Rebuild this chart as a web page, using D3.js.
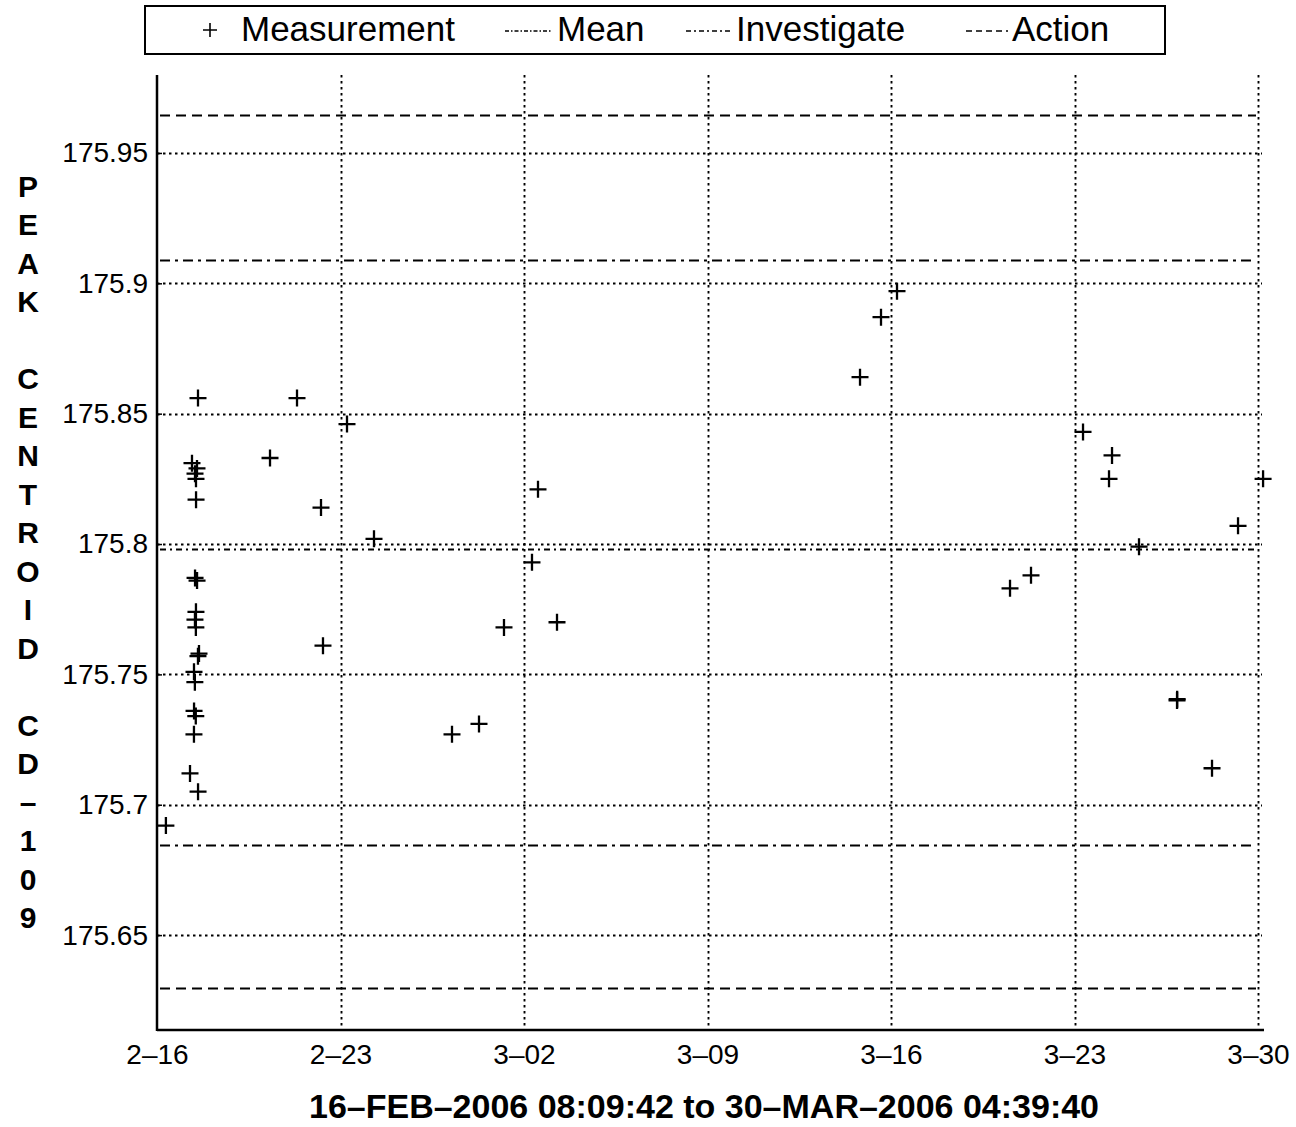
<!DOCTYPE html>
<html>
<head>
<meta charset="utf-8">
<script src="https://cdn.jsdelivr.net/npm/d3@7"></script>
<style>
  html, body { margin: 0; padding: 0; background: #fff; }
  svg { display: block; font-family: "Liberation Sans", Arial, Helvetica, sans-serif; }
</style>
</head>
<body>
<svg id="chart" width="1296" height="1127"></svg>
<script>
// ---------------- data ----------------
const measDates = [
  "2006-02-16T08:09",
  "2006-02-17T13:32","2006-02-17T08:02","2006-02-17T12:37","2006-02-17T10:48","2006-02-17T11:42",
  "2006-02-17T11:45","2006-02-17T10:50","2006-02-17T12:40","2006-02-17T11:40","2006-02-17T10:45",
  "2006-02-17T11:35","2006-02-17T14:27","2006-02-17T13:30","2006-02-17T09:52","2006-02-17T10:40",
  "2006-02-17T09:55","2006-02-17T11:30","2006-02-17T09:50","2006-02-17T06:13","2006-02-17T13:35",
  "2006-02-20T07:28","2006-02-21T08:11","2006-02-22T06:09","2006-02-22T07:58","2006-02-23T05:57",
  "2006-02-24T06:40","2006-02-27T06:05","2006-02-28T06:48","2006-03-01T05:41","2006-03-02T07:19",
  "2006-03-02T12:49","2006-03-03T06:13","2006-03-14T19:38","2006-03-15T14:51","2006-03-16T05:30",
  "2006-03-20T12:58","2006-03-21T08:11","2006-03-23T07:48","2006-03-24T07:36","2006-03-24T10:21",
  "2006-03-25T11:04","2006-03-26T21:52","2006-03-26T22:00","2006-03-28T05:54","2006-03-29T05:43",
  "2006-03-30T04:39"
];
const measValues = [
  175.692,
  175.856, 175.831, 175.829, 175.827, 175.825,
  175.817, 175.787, 175.786, 175.774, 175.771,
  175.768, 175.758, 175.757, 175.751, 175.747,
  175.736, 175.734, 175.727, 175.712, 175.705,
  175.833, 175.856, 175.814, 175.761, 175.846,
  175.802, 175.727, 175.731, 175.768, 175.793,
  175.821, 175.770, 175.864, 175.887, 175.897,
  175.783, 175.788, 175.843, 175.825, 175.834,
  175.799, 175.740, 175.7405, 175.714, 175.807,
  175.825
];
const meanValue = 175.798;
const investigateLimits = [175.6847, 175.9088];
const actionLimits = [175.6297, 175.9646];
const yTickValues = [175.65, 175.7, 175.75, 175.8, 175.85, 175.9, 175.95];
const xTickDates = ["2006-02-16","2006-02-23","2006-03-02","2006-03-09","2006-03-16","2006-03-23","2006-03-30"];
const xTickLabels = ["2–16","2–23","3–02","3–09","3–16","3–23","3–30"];
const yDomain = [175.6136, 175.9799];
const xDomain = ["2006-02-16T00:00", "2006-03-30T00:00"];
const legendLabels = ["Measurement", "Mean", "Investigate", "Action"];
const yAxisLabel = "PEAK  CENTROID  CD–109";
const xAxisTitle = "16–FEB–2006 08:09:42 to 30–MAR–2006 04:39:40";

// ---------------- drawing ----------------
const parseT = d3.utcParse("%Y-%m-%dT%H:%M");
const parseD = d3.utcParse("%Y-%m-%d");
const svg = d3.select("#chart");

const plotLeft = 157, plotRight = 1258, plotTop = 75, plotBottom = 1030;
const lineRight = 1262;

const x = d3.scaleUtc().domain(xDomain.map(parseT)).range([plotLeft, plotRight]);
const y = d3.scaleLinear().domain(yDomain).range([plotBottom, plotTop]);

// grid (dotted)
const grid = svg.append("g").attr("stroke", "#000").attr("stroke-width", 1.9)
  .attr("stroke-dasharray", "2.5,3.5").attr("fill", "none");
grid.selectAll("line.h").data(yTickValues).join("line").attr("class", "h")
  .attr("x1", plotLeft).attr("x2", lineRight)
  .attr("y1", d => Math.round(y(d)) + 0.5).attr("y2", d => Math.round(y(d)) + 0.5);
grid.selectAll("line.v").data(xTickDates.slice(1)).join("line").attr("class", "v")
  .attr("x1", d => Math.round(x(parseD(d))) + 0.5).attr("x2", d => Math.round(x(parseD(d))) + 0.5)
  .attr("y1", plotTop).attr("y2", plotBottom);

// control lines
const ctrl = [
  { v: actionLimits[0], dash: "10,6" },
  { v: actionLimits[1], dash: "10,6" },
  { v: investigateLimits[0], dash: "10,5,3,5" },
  { v: investigateLimits[1], dash: "10,5,3,5" },
  { v: meanValue, dash: "6,4,2,4" }
];
svg.append("g").selectAll("line").data(ctrl).join("line")
  .attr("x1", plotLeft + 3).attr("x2", plotRight - 2)
  .attr("y1", d => Math.round(y(d.v)) + 0.5).attr("y2", d => Math.round(y(d.v)) + 0.5)
  .attr("stroke", "#000").attr("stroke-width", 2).attr("stroke-dasharray", d => d.dash);

// axes
const yAxis = d3.axisLeft(y).tickValues(yTickValues).tickSize(-5).tickPadding(9)
  .tickFormat(d => String(+d.toFixed(2)));
const gy = svg.append("g").attr("transform", `translate(${plotLeft},0)`).call(yAxis);
gy.select(".domain").remove();
gy.selectAll(".tick line").attr("stroke", "#000").attr("stroke-width", 1.5);
gy.selectAll(".tick text").attr("font-size", 28).attr("fill", "#000")
  .attr("font-family", "'Liberation Sans', Arial, sans-serif");

const xAxis = d3.axisBottom(x).tickValues(xTickDates.map(parseD)).tickSize(0).tickPadding(14)
  .tickFormat((d, i) => xTickLabels[i]);
const gx = svg.append("g").attr("transform", `translate(0,${plotBottom})`).call(xAxis);
gx.select(".domain").remove();
gx.selectAll(".tick text").attr("font-size", 28).attr("fill", "#000")
  .attr("font-family", "'Liberation Sans', Arial, sans-serif");

// axis lines
svg.append("line").attr("x1", plotLeft).attr("x2", plotLeft).attr("y1", plotTop).attr("y2", plotBottom + 1)
  .attr("stroke", "#000").attr("stroke-width", 2.5);
svg.append("line").attr("x1", plotLeft).attr("x2", lineRight + 2).attr("y1", plotBottom).attr("y2", plotBottom)
  .attr("stroke", "#000").attr("stroke-width", 2.5);

// measurement markers
const cross = (s) => `M${-s},0H${s}M0,${-s}V${s}`;
svg.append("g").selectAll("path").data(measDates.map((d, i) => ({ t: parseT(d), v: measValues[i] })))
  .join("path")
  .attr("transform", d => `translate(${x(d.t)},${y(d.v)})`)
  .attr("d", cross(8.5)).attr("stroke", "#000").attr("stroke-width", 2.3).attr("fill", "none");

// y axis label (vertical stacked letters)
const letters = Array.from(yAxisLabel.replace(/ {2}/g, " "));
svg.append("g").selectAll("text").data(letters).join("text")
  .attr("x", 28).attr("y", (d, i) => 186 + i * 38.5).attr("dy", "0.36em")
  .attr("text-anchor", "middle").attr("font-size", 30).attr("font-weight", "bold")
  .text(d => d === " " ? "" : d);

// x axis title
svg.append("text").attr("x", 704).attr("y", 1118).attr("text-anchor", "middle")
  .attr("font-size", 34).attr("font-weight", "bold").text(xAxisTitle);

// legend
const lg = svg.append("g");
lg.append("rect").attr("x", 145).attr("y", 6).attr("width", 1020).attr("height", 48)
  .attr("fill", "#fff").attr("stroke", "#000").attr("stroke-width", 2);
lg.append("path").attr("transform", "translate(210,30)").attr("d", cross(7))
  .attr("stroke", "#000").attr("stroke-width", 1.6);
const legItems = [
  { tx: 241, lx: null, dash: null },
  { tx: 557, lx: [505, 551], dash: "4,2,1.5,2" },
  { tx: 736, lx: [686, 732], dash: "5,3,2,3" },
  { tx: 1012, lx: [966, 1008], dash: "6,4" }
];
legItems.forEach((it, i) => {
  if (it.lx) {
    lg.append("line").attr("x1", it.lx[0]).attr("x2", it.lx[1]).attr("y1", 31).attr("y2", 31)
      .attr("stroke", "#000").attr("stroke-width", 1.5).attr("stroke-dasharray", it.dash);
  }
  lg.append("text").attr("x", it.tx).attr("y", 41).attr("font-size", 35).text(legendLabels[i]);
});
</script>
</body>
</html>
